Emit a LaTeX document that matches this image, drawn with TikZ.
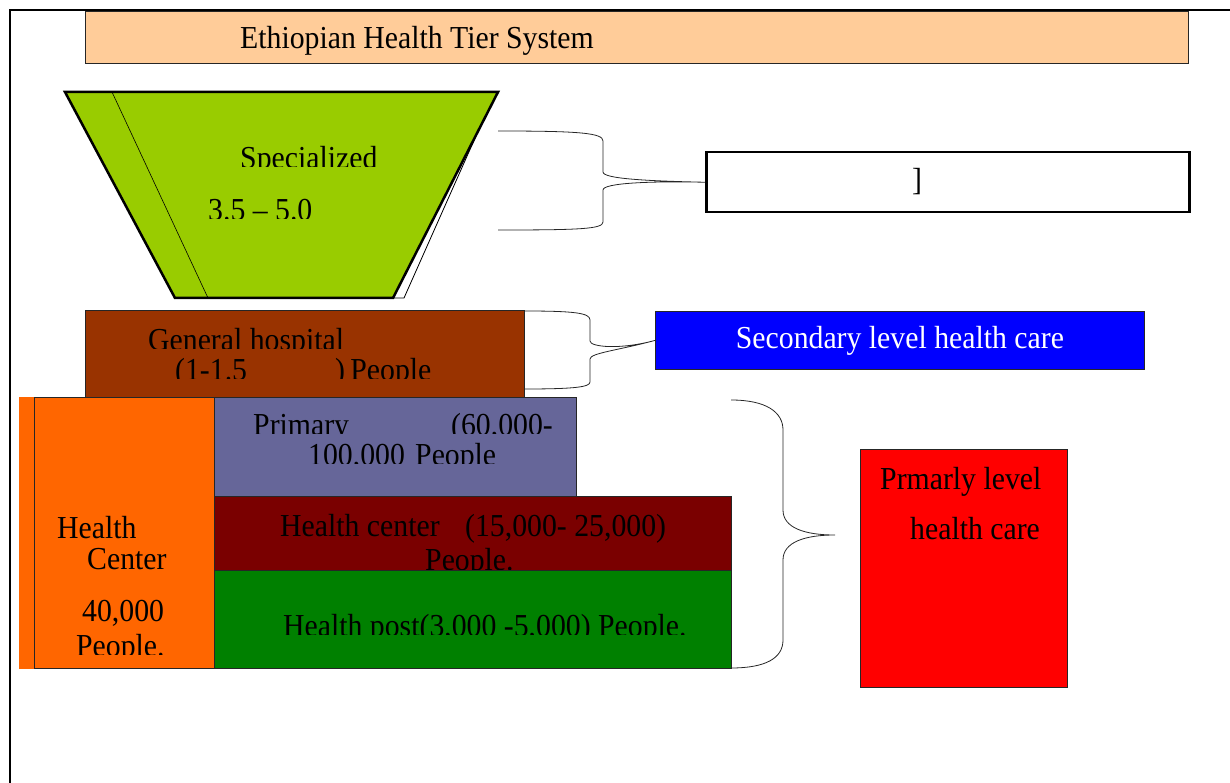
\documentclass[tikz,border=0pt]{standalone}
\usepackage{fontspec}
\setmainfont{Liberation Serif}[FakeStretch=0.93]
\definecolor{peach}{HTML}{FFCC99}
\definecolor{lime}{HTML}{99CC00}
\definecolor{rust}{HTML}{993300}
\definecolor{tangerine}{HTML}{FF6600}
\definecolor{slate}{HTML}{666699}
\definecolor{maroon}{HTML}{7A0000}
\definecolor{leaf}{HTML}{008000}
\definecolor{edge}{HTML}{262626}
\tikzset{
  txt/.style={inner sep=0pt, anchor=base west, font=\fontsize{32}{34}\selectfont},
  tierbox/.style={draw=edge, line width=0.8pt, inner sep=0pt, anchor=north west},
  brace/.style={draw=edge, line width=0.8pt},
}
% a text line whose lower part is cut off by its frame
\newcommand\cutline[5]{%
  \begin{scope}
    \clip (#2-10,#4) rectangle (#2+700,#3-45);
    \node[txt] (#1) at (#2,#3) {#5};
  \end{scope}}
\begin{document}
\begin{tikzpicture}[x=1pt,y=-1pt]
\useasboundingbox (0,0) rectangle (1230,783);
% page frame
\draw[line width=2pt] (10,790) -- (10,10) -- (1240,10);

% title bar
\node[tierbox, fill=peach, minimum width=1103pt, minimum height=52pt] (title) at (85,11) {};
\node[txt] (titletext) at (240,49) {Ethiopian Health Tier System};

% specialized tier: funnel with a white side face
\coordinate (fTL) at (65,92);
\coordinate (fTR) at (498,92);
\coordinate (fBR) at (393,298);
\coordinate (fBL) at (175,298);
\filldraw[fill=white, draw=black, line width=0.8pt] (484,118) -- (404,298) -- (fBR) -- cycle;
\fill[lime] (fTL) -- (fTR) -- (fBR) -- (fBL) -- cycle;
\draw[line width=0.6pt] (112,92) -- (208,298);
\draw[line width=2.5pt, line join=miter] (fTL) -- (fTR) -- (fBR) -- (fBL) -- cycle;
\cutline{spec}{240}{169}{167}{Specialized}
\cutline{specpop}{208}{221}{219}{3.5 – 5.0}

% tertiary label box
\node[draw=black, line width=2.5pt, minimum width=483pt, minimum height=60pt, inner sep=0pt, anchor=north west] (tertiary) at (705,151) {};
\node[txt] (tertiarytext) at (912,191) {]};
\coordinate (b1top) at (498,131);
\coordinate (b1bot) at (498,230);
\draw[brace] (b1top) .. controls (580,131) and (603,133) .. (603,141) -- (603,172)
  .. controls (603,179) and (650,181) .. (tertiary.west)
  .. controls (650,181) and (603,183) .. (603,190) -- (603,222)
  .. controls (603,229) and (580,230) .. (b1bot);

% general hospital tier
\node[tierbox, fill=rust, minimum width=439pt, minimum height=87pt] (general) at (85,310) {};
\cutline{gentext}{148}{350}{348}{General hospital}
\cutline{genpopa}{175}{380}{378}{(1-1.5}
\cutline{genpopb}{335}{380}{378}{)\,People}

% secondary label box
\node[draw=edge, line width=0.8pt, fill=blue, minimum width=489pt, minimum height=58pt, inner sep=0pt, anchor=north west] (secondary) at (655,311) {};
\node[font=\fontsize{32}{34}\selectfont, text=white, inner sep=0pt] (sectext) at (secondary.center) {Secondary level health care};
\coordinate (b2top) at (524,311);
\coordinate (b2bot) at (524,389);
\draw[brace] (b2top) .. controls (575,311) and (590,313) .. (590,320) -- (590,341)
  .. controls (590,347) and (620,350) .. (secondary.west)
  .. controls (620,350) and (590,353) .. (590,359) -- (590,382)
  .. controls (590,387) and (575,389) .. (b2bot);

% primary health care unit
\fill[tangerine] (19,397) rectangle (34,669);
\node[tierbox, fill=tangerine, minimum width=180pt, minimum height=271pt] (unit) at (34,397) {};
\node[txt] (unita) at (57,538) {Health};
\node[txt] (unitb) at (87,569) {Center};
\node[txt] (unitc) at (82,621) {40,000};
\cutline{unitd}{76}{656}{654}{People.}

\node[tierbox, fill=slate, minimum width=362pt, minimum height=99pt] (primary) at (214,397) {};
\cutline{prima}{253}{435}{433}{Primary}
\cutline{primb}{451}{435}{433}{(60,000-}
\cutline{primc}{308}{465}{463}{100,000}
\cutline{primd}{415}{465}{463}{People}

\node[tierbox, fill=maroon, minimum width=517pt, minimum height=74pt] (center) at (214,496) {};
\node[txt] (centa) at (280,536) {Health center};
\node[txt] (centb) at (465,536) {(15,000- 25,000)};
\cutline{centc}{425}{570}{569}{People.}

\node[tierbox, fill=leaf, minimum width=517pt, minimum height=98pt] (post) at (214,570) {};
\cutline{posttext}{283}{636}{634}{Health post(3,000 -5,000) People.}

% primary label box
\node[tierbox, fill=red, minimum width=207pt, minimum height=238pt] (primlabel) at (860,449) {};
\node[txt] (pla) at (880,489) {Prmarly level};
\node[txt] (plb) at (910,539) {health care};
\coordinate (b3top) at (731,400);
\coordinate (b3tip) at (835,535);
\coordinate (b3bot) at (731,668);
\draw[brace] (b3top) .. controls (766,400) and (783,412) .. (783,430) -- (783,510)
  .. controls (783,528) and (805,535) .. (b3tip)
  .. controls (805,535) and (783,542) .. (783,560) -- (783,640)
  .. controls (783,658) and (766,668) .. (b3bot);
\end{tikzpicture}
\end{document}
